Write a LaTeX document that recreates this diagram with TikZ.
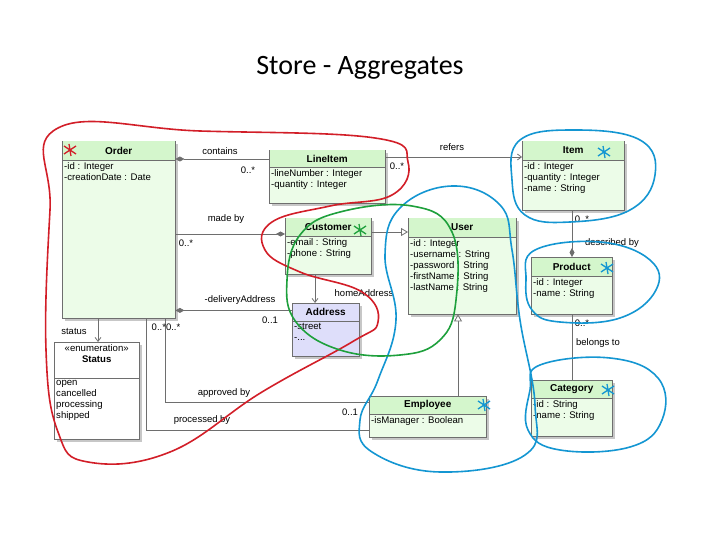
\documentclass[tikz,border=0pt]{standalone}
\usepackage{fontspec}
\setmainfont{Liberation Sans}
\newfontfamily\titlefont{Carlito}
\usetikzlibrary{arrows.meta,calc}
\definecolor{clsfill}{RGB}{236,252,232}
\definecolor{hdrfill}{RGB}{212,246,204}
\definecolor{addrfill}{RGB}{222,222,250}
\definecolor{edge}{RGB}{110,110,110}
\definecolor{redpen}{RGB}{210,30,40}
\definecolor{bluepen}{RGB}{20,150,210}
\definecolor{greenpen}{RGB}{30,160,60}
\tikzset{
  cls/.style={draw=edge, fill=clsfill, inner sep=0pt},
  lbl/.style={font=\fontsize{9.5}{10}\selectfont, inner sep=1pt},
  ttl/.style={font=\fontsize{10}{11}\selectfont\bfseries, inner sep=1pt},
  attr/.style={font=\fontsize{9.6}{11.2}\selectfont, align=left, inner sep=2pt},
  conn/.style={draw=edge, line width=0.8pt},
  agg/.style={conn, {Diamond[length=9pt,width=5pt,fill=edge]}-},
  gen/.style={conn, -{Triangle[open,length=7pt,width=8pt,fill=white]}},
  nav/.style={conn, -{Straight Barb[length=4pt,width=6pt]}},
  pen/.style={line width=1.6pt, smooth cycle, tension=0.7}
}
\newcommand\clsbox[8]{%
  \fill[black!22] (#2+3,#3+3) rectangle ++(#4,#5);
  \node[cls, minimum width=#4pt, minimum height=#5pt, anchor=north west] (#1) at (#2,#3) {};
  \fill[hdrfill] ([shift={(0.5pt,-0.5pt)}]#1.north west) rectangle ([yshift=-#6pt,xshift=-0.5pt]#1.north east);
  \draw[edge] ([yshift=-#6pt]#1.north west) -- ([yshift=-#6pt]#1.north east);
  \node[ttl, anchor=center] (#1-t) at ($(#1.north)+(0,#6/2)$) {#7};
  \node[attr, anchor=north west] (#1-a) at ([yshift=-#6pt]#1.north west) {#8};
}
\newcommand\astk[3]{% x y color
  \draw[#3, line width=1.3pt] (#1-6,#2-4) -- (#1+6,#2+4) (#1-6,#2+4) -- (#1+6,#2-4) (#1-1,#2-6) -- (#1+1,#2+6);
}
\begin{document}
\begin{tikzpicture}[x=1pt,y=-1pt]
\useasboundingbox (0,0) rectangle (720,540);
\node[font=\titlefont\fontsize{28}{32}\selectfont] (title) at (360,68) {Store - Aggregates};

\clsbox{order}{62}{141}{113}{177}{19}{Order}{-id : Integer\\-creationDate : Date}
\clsbox{lineitem}{269}{150}{116}{53}{17}{LineItem}{-lineNumber : Integer\\-quantity : Integer}
\clsbox{customer}{285}{218}{86}{56}{18}{Customer}{-email : String\\-phone : String}
\clsbox{user}{408}{218}{108}{96}{19}{User}{-id : Integer\\-username : String\\-password : String\\-firstName : String\\-lastName : String}
\clsbox{item}{522}{141}{102}{69}{19}{Item}{-id : Integer\\-quantity : Integer\\-name : String}
\clsbox{product}{531}{257}{81}{57}{19}{Product}{-id : Integer\\-name : String}
\clsbox{category}{531}{380}{81}{56}{18}{Category}{-id : String\\-name : String}
\clsbox{employee}{369}{396}{117}{41}{18}{Employee}{-isManager : Boolean}
% Address (blue)
\fill[black!22] (295,306) rectangle ++(67,53);
\node[draw=edge, fill=addrfill, minimum width=67pt, minimum height=53pt, anchor=north west, inner sep=0pt] (address) at (292,303) {};
\draw[edge] ([yshift=-18pt]address.north west) -- ([yshift=-18pt]address.north east);
\node[ttl] (address-t) at ($(address.north)+(0,9)$) {Address};
\node[attr, anchor=north west] (address-a) at ([yshift=-18pt]address.north west) {-street\\-...};
% Status
\fill[black!22] (57,345) rectangle ++(85,97);
\node[draw=edge, fill=white, minimum width=85pt, minimum height=97pt, anchor=north west, inner sep=0pt] (status) at (54,342) {};
\draw[edge] ([yshift=-36pt]status.north west) -- ([yshift=-36pt]status.north east);
\node[attr, align=center, anchor=north] (status-t) at (status.north) {«enumeration»\\\textbf{Status}};
\node[attr, anchor=north west] (status-a) at ([yshift=-36pt]status.north west) {open\\cancelled\\processing\\shipped};

% connectors
\draw[agg] ($(order.north east)+(0,18)$) coordinate (c1) -- (c1 -| lineitem.west);
\node[lbl] (l1) at (220,151) {contains};
\node[lbl] (l2) at (248,170) {0..*};
\draw[nav] ($(lineitem.north east)+(0,7)$) coordinate (c2) -- (c2 -| item.west);
\node[lbl] (l3) at (452,147) {refers};
\node[lbl] (l4) at (397,166) {0..*};
\draw[agg] ($(customer.north west)+(0,16)$) coordinate (c3) -- (c3 -| order.east);
\node[lbl] (l5) at (226,219) {made by};
\node[lbl] (l6) at (186,243) {0..*};
\draw[agg] ($(order.south east)+(0,-8)$) coordinate (c4) -- (c4 -| address.west);
\node[lbl] (l7) at (240,300) {-deliveryAddress};
\node[lbl] (l8) at (270,320) {0..1};
\draw[agg, -{Straight Barb[length=4pt,width=6pt]}] ($(customer.south west)+(30,0)$) coordinate (c5) -- (c5 |- address.north);
\node[lbl] (l9) at (364,293) {homeAddress};
\draw[gen] ($(customer.north east)+(0,14)$) coordinate (c6) -- (c6 -| user.west);
\draw[gen] ($(employee.north west)+(89,0)$) coordinate (c7) -- (c7 |- user.south);
\draw[agg] ($(product.north west)+(41,0)$) coordinate (c8) -- (c8 |- item.south);
\node[lbl] (l10) at (582,219) {0..*};
\node[lbl] (l11) at (612,243) {described by};
\draw[conn] ($(product.south west)+(41,0)$) coordinate (c9) -- (c9 |- category.north);
\node[lbl] (l12) at (582,323) {0..*};
\node[lbl] (l13) at (598,343) {belongs to};
\draw[nav] ($(order.south west)+(36,0)$) coordinate (c10) -- (c10 |- status.north);
\node[lbl] (l14) at (74,331) {status};
\draw[conn] ($(order.south west)+(103,0)$) coordinate (c11) -- ++(0,84) coordinate (c12) -- (c12 -| employee.west);
\draw[conn] ($(order.south west)+(84,0)$) coordinate (c13) -- ++(0,112) coordinate (c14) -- (c14 -| employee.west);
\node[lbl] (l15) at (166,327) {0..*0..*};
\node[lbl] (l16) at (224,393) {approved by};
\node[lbl] (l17) at (202,420) {processed by};
\node[lbl] (l18) at (350,412) {0..1};

% hand drawn marks
\draw[redpen, pen] plot coordinates {(58,128) (200,131) (375,138) (408,162) (392,195) (330,206) (272,222) (265,250) (300,272) (362,292) (378,322) (352,342) (262,392) (170,452) (88,462) (58,432) (46,350) (50,210)};
\draw[bluepen, pen] plot coordinates {(520,140) (575,130) (640,140) (655,175) (630,210) (570,222) (525,215) (512,180)};
\draw[bluepen, pen] plot coordinates {(535,250) (600,242) (650,260) (656,290) (620,318) (560,322) (532,310) (526,280)};
\draw[bluepen, pen] plot coordinates {(540,365) (610,358) (658,378) (662,420) (630,447) (560,450) (528,430) (530,390)};
\draw[bluepen, pen] plot coordinates {(452,186) (500,205) (512,250) (520,320) (535,405) (525,455) (440,472) (372,452) (360,420) (378,380) (396,320) (385,255) (400,208)};
\draw[greenpen, pen] plot coordinates {(300,235) (340,212) (412,206) (452,232) (456,300) (440,340) (400,355) (340,350) (296,322) (287,280)};
\astk{70}{150}{redpen}
\astk{360}{230}{greenpen}
\astk{604}{152}{bluepen}
\astk{607}{268}{bluepen}
\astk{608}{390}{bluepen}
\astk{484}{405}{bluepen}
\end{tikzpicture}
\end{document}
